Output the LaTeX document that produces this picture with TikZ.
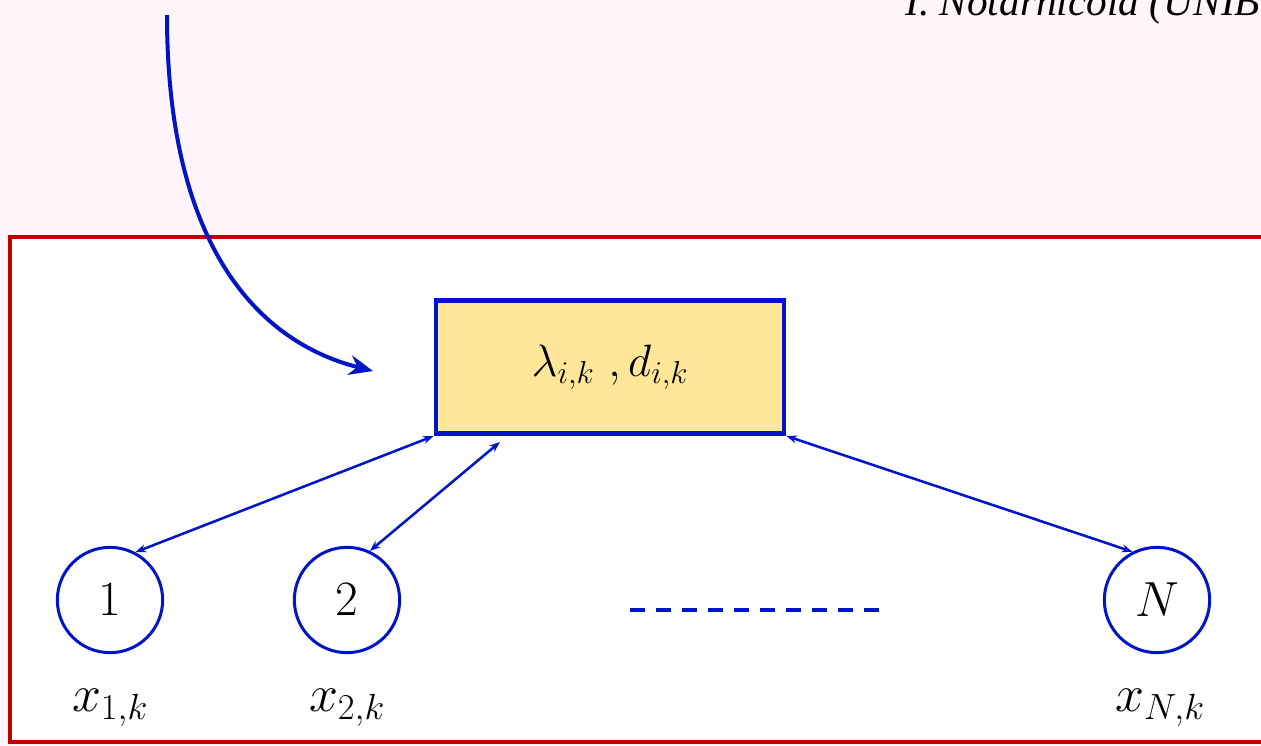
\RequirePackage{fix-cm}
\documentclass[tikz,border=0pt]{standalone}
\usepackage{fontspec}
\newfontfamily\timesfont{Liberation Serif}
\usetikzlibrary{arrows.meta}
\definecolor{bgpink}{RGB}{255,245,250}
\definecolor{frred}{RGB}{192,0,0}
\definecolor{dblue}{RGB}{0,20,200}
\definecolor{boxyellow}{RGB}{255,230,153}
\tikzset{
  agent/.style={circle, draw=dblue, line width=2.25pt, minimum size=79pt, inner sep=0pt, fill=white, font=\fontsize{37}{42}\selectfont},
  statebox/.style={draw=dblue, line width=3.5pt, fill=boxyellow, minimum width=261pt, minimum height=100pt, inner sep=0pt, font=\fontsize{34}{40}\selectfont},
  lbl/.style={font=\fontsize{39}{44}\selectfont, inner sep=0pt},
  link/.style={dblue, line width=1.9pt, {Stealth[length=8pt,width=6pt]}-{Stealth[length=8pt,width=6pt]}},
}
\begin{document}
\begin{tikzpicture}[x=0.75pt,y=-0.75pt]
\useasboundingbox (0,0) rectangle (1261,746);
\fill[bgpink] (0,0) rectangle (1261,746);
\draw[frred, fill=white, line width=3pt] (10,237) rectangle (1290,742);
\node[anchor=base west, inner sep=0pt, font=\timesfont\itshape\fontsize{31}{36}\selectfont] (title) at (905,16) {I. Notarnicola (UNIBO)};
\node[statebox] (box) at (610,367) {$\lambda_{i,k}\ ,d_{i,k}$};
\node[agent] (c1) at (110,600) {$1$};
\node[agent] (c2) at (347,600) {$2$};
\node[agent] (cN) at (1157,600) {$N$};
\node[lbl] (x1) at (110,708) {$x_{1,k}$};
\node[lbl] (x2) at (347,708) {$x_{2,k}$};
\node[lbl] (xN) at (1160,708) {$x_{N,k}$};
\coordinate (d1) at (630,610);
\coordinate (d2) at (880,610);
\draw[dblue, line width=2.3pt, dash pattern=on 11pt off 8.5pt] (d1) -- (d2);
\coordinate (b2) at (500,442);
\draw[link] (box.south west) -- (c1.62);
\draw[link] (b2) -- (c2.65);
\draw[link] (box.south east) -- (cN.117);
\coordinate (s) at (167,15);
\coordinate (e) at (373,371);
\draw[dblue, line width=3pt, -{Stealth[length=18pt,width=15pt,inset=6pt]}] (s) .. controls (167,235) and (250,340) .. (e);
\end{tikzpicture}
\end{document}
